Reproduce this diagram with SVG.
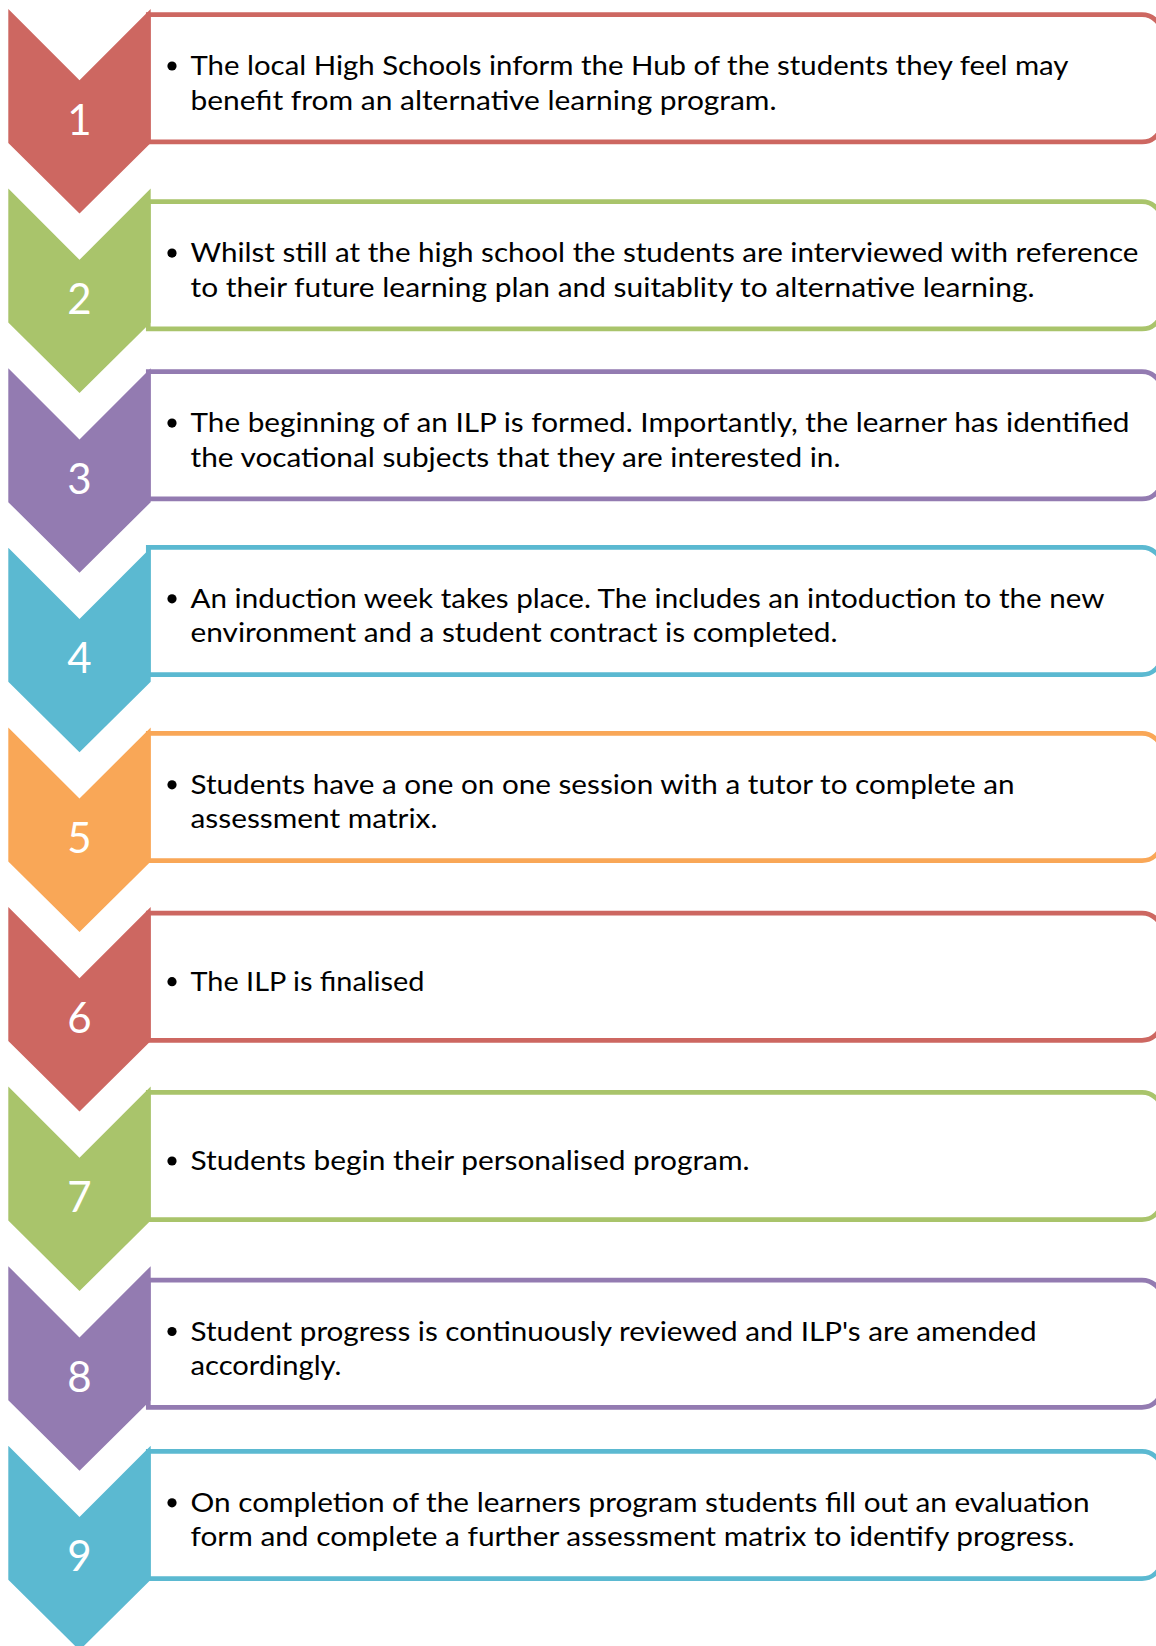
<svg xmlns="http://www.w3.org/2000/svg" width="1156" height="1646" viewBox="0 0 1156 1646">
  <defs>
    <style>
      .box { fill: #ffffff; stroke-width: 4.7; }
      .num { font-family: Lato, "Open Sans", sans-serif; font-size: 42px; fill: #ffffff; text-anchor: middle; }
      .txt { font-family: Lato, "Open Sans", sans-serif; font-size: 26.5px; fill: #000000; }
      .dot { fill: #000000; }
      .red .box { stroke: #CD6761; } .red .chev { fill: #CD6761; }
      .green .box { stroke: #A9C46B; } .green .chev { fill: #A9C46B; }
      .purple .box { stroke: #937BB1; } .purple .chev { fill: #937BB1; }
      .blue .box { stroke: #5BB9D1; } .blue .chev { fill: #5BB9D1; }
      .orange .box { stroke: #F9A757; } .orange .chev { fill: #F9A757; }
    </style>
  </defs>

  <!-- each step: text panel (square left, rounded right), downward chevron, number, bullet text -->
  <g id="step1" class="red">
    <path class="box" transform="translate(0,12.3)" d="M148.3,2.35 H1142 A20,20 0 0 1 1162,22.35 V109.65 A20,20 0 0 1 1142,129.65 H148.3 Z"/>
    <polygon class="chev" transform="translate(0,9)" points="8.3,0 79.5,71.2 150.7,0 150.7,134 79.5,204.5 8.3,134"/>
    <text class="num" x="79.5" y="134.5">1</text>
    <circle class="dot" cx="172" cy="66" r="4.6"/>
    <text class="txt" x="190.5" y="75.4" textLength="878" lengthAdjust="spacingAndGlyphs">The local High Schools inform the Hub of the students they feel may</text>
    <text class="txt" x="190.5" y="109.7" textLength="586" lengthAdjust="spacingAndGlyphs">benefit from an alternative learning program.</text>
  </g>

  <g id="step2" class="green">
    <path class="box" transform="translate(0,199.3)" d="M148.3,2.35 H1142 A20,20 0 0 1 1162,22.35 V109.65 A20,20 0 0 1 1142,129.65 H148.3 Z"/>
    <polygon class="chev" transform="translate(0,188.6)" points="8.3,0 79.5,71.2 150.7,0 150.7,134 79.5,204.5 8.3,134"/>
    <text class="num" x="79.5" y="314.1">2</text>
    <circle class="dot" cx="172" cy="253.1" r="4.6"/>
    <text class="txt" x="190.5" y="262.4" textLength="948" lengthAdjust="spacingAndGlyphs">Whilst still at the high school the students are interviewed with reference</text>
    <text class="txt" x="190.5" y="296.7" textLength="844" lengthAdjust="spacingAndGlyphs">to their future learning plan and suitablity to alternative learning.</text>
  </g>

  <g id="step3" class="purple">
    <path class="box" transform="translate(0,369.3)" d="M148.3,2.35 H1142 A20,20 0 0 1 1162,22.35 V109.65 A20,20 0 0 1 1142,129.65 H148.3 Z"/>
    <polygon class="chev" transform="translate(0,368.2)" points="8.3,0 79.5,71.2 150.7,0 150.7,134 79.5,204.5 8.3,134"/>
    <text class="num" x="79.5" y="493.7">3</text>
    <circle class="dot" cx="172" cy="423.1" r="4.6"/>
    <text class="txt" x="190.5" y="432.4" textLength="939" lengthAdjust="spacingAndGlyphs">The beginning of an ILP is formed. Importantly, the learner has identified</text>
    <text class="txt" x="190.5" y="466.7" textLength="650" lengthAdjust="spacingAndGlyphs">the vocational subjects that they are interested in.</text>
  </g>

  <g id="step4" class="blue">
    <path class="box" transform="translate(0,545)" d="M148.3,2.35 H1142 A20,20 0 0 1 1162,22.35 V109.65 A20,20 0 0 1 1142,129.65 H148.3 Z"/>
    <polygon class="chev" transform="translate(0,547.8)" points="8.3,0 79.5,71.2 150.7,0 150.7,134 79.5,204.5 8.3,134"/>
    <text class="num" x="79.5" y="673.3">4</text>
    <circle class="dot" cx="172" cy="598.8" r="4.6"/>
    <text class="txt" x="190.5" y="608.1" textLength="914" lengthAdjust="spacingAndGlyphs">An induction week takes place. The includes an intoduction to the new</text>
    <text class="txt" x="190.5" y="642.4" textLength="647" lengthAdjust="spacingAndGlyphs">environment and a student contract is completed.</text>
  </g>

  <g id="step5" class="orange">
    <path class="box" transform="translate(0,731)" d="M148.3,2.35 H1142 A20,20 0 0 1 1162,22.35 V109.65 A20,20 0 0 1 1142,129.65 H148.3 Z"/>
    <polygon class="chev" transform="translate(0,727.4)" points="8.3,0 79.5,71.2 150.7,0 150.7,134 79.5,204.5 8.3,134"/>
    <text class="num" x="79.5" y="852.9">5</text>
    <circle class="dot" cx="172" cy="784.8" r="4.6"/>
    <text class="txt" x="190.5" y="794.1" textLength="824" lengthAdjust="spacingAndGlyphs">Students have a one on one session with a tutor to complete an</text>
    <text class="txt" x="190.5" y="828.4" textLength="247" lengthAdjust="spacingAndGlyphs">assessment matrix.</text>
  </g>

  <g id="step6" class="red">
    <path class="box" transform="translate(0,910.7)" d="M148.3,2.35 H1142 A20,20 0 0 1 1162,22.35 V109.65 A20,20 0 0 1 1142,129.65 H148.3 Z"/>
    <polygon class="chev" transform="translate(0,907)" points="8.3,0 79.5,71.2 150.7,0 150.7,134 79.5,204.5 8.3,134"/>
    <text class="num" x="79.5" y="1032.5">6</text>
    <circle class="dot" cx="172" cy="981.7" r="4.6"/>
    <text class="txt" x="190.5" y="991" textLength="234" lengthAdjust="spacingAndGlyphs">The ILP is finalised</text>
  </g>

  <g id="step7" class="green">
    <path class="box" transform="translate(0,1090)" d="M148.3,2.35 H1142 A20,20 0 0 1 1162,22.35 V109.65 A20,20 0 0 1 1142,129.65 H148.3 Z"/>
    <polygon class="chev" transform="translate(0,1086.6)" points="8.3,0 79.5,71.2 150.7,0 150.7,134 79.5,204.5 8.3,134"/>
    <text class="num" x="79.5" y="1212.1">7</text>
    <circle class="dot" cx="172" cy="1161" r="4.6"/>
    <text class="txt" x="190.5" y="1170.3" textLength="559" lengthAdjust="spacingAndGlyphs">Students begin their personalised program.</text>
  </g>

  <g id="step8" class="purple">
    <path class="box" transform="translate(0,1277.7)" d="M148.3,2.35 H1142 A20,20 0 0 1 1162,22.35 V109.65 A20,20 0 0 1 1142,129.65 H148.3 Z"/>
    <polygon class="chev" transform="translate(0,1266.2)" points="8.3,0 79.5,71.2 150.7,0 150.7,134 79.5,204.5 8.3,134"/>
    <text class="num" x="79.5" y="1391.7">8</text>
    <circle class="dot" cx="172" cy="1331.5" r="4.6"/>
    <text class="txt" x="190.5" y="1340.8" textLength="846" lengthAdjust="spacingAndGlyphs">Student progress is continuously reviewed and ILP's are amended</text>
    <text class="txt" x="190.5" y="1375.1" textLength="151" lengthAdjust="spacingAndGlyphs">accordingly.</text>
  </g>

  <g id="step9" class="blue">
    <path class="box" transform="translate(0,1449)" d="M148.3,2.35 H1142 A20,20 0 0 1 1162,22.35 V109.65 A20,20 0 0 1 1142,129.65 H148.3 Z"/>
    <polygon class="chev" transform="translate(0,1445.8)" points="8.3,0 79.5,71.2 150.7,0 150.7,134 79.5,204.5 8.3,134"/>
    <text class="num" x="79.5" y="1571.3">9</text>
    <circle class="dot" cx="172" cy="1502.8" r="4.6"/>
    <text class="txt" x="190.5" y="1512.1" textLength="899" lengthAdjust="spacingAndGlyphs">On completion of the learners program students fill out an evaluation</text>
    <text class="txt" x="190.5" y="1546.4" textLength="884" lengthAdjust="spacingAndGlyphs">form and complete a further assessment matrix to identify progress.</text>
  </g>
</svg>
